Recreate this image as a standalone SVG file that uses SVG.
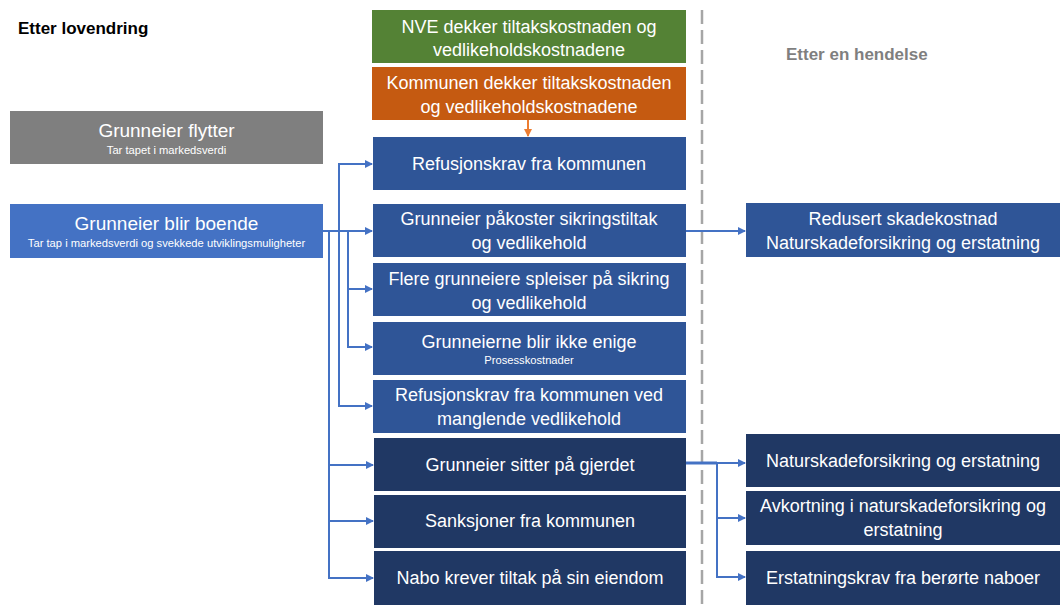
<svg xmlns="http://www.w3.org/2000/svg" width="1060" height="605" viewBox="0 0 1060 605">
  <style>
    .box-t { font-family: "Liberation Sans", Arial, sans-serif; font-size: 18px; fill: #ffffff; text-anchor: middle; }
    .lead-t { font-size: 19px; }
    .sub-t { font-family: "Liberation Sans", Arial, sans-serif; font-size: 11.2px; fill: #ffffff; text-anchor: middle; }
    .head { font-family: "Liberation Sans", Arial, sans-serif; font-size: 17px; font-weight: bold; }
    .mid { fill: #2f5597; }
    .dark { fill: #203864; }
    .conn { fill: none; stroke: #4472c4; stroke-width: 2; }
  </style>
  <defs>
    <marker id="arr" viewBox="0 0 8 8" refX="7" refY="4" markerWidth="4" markerHeight="4" orient="auto" markerUnits="strokeWidth">
      <path d="M0,0 L8,4 L0,8 z" fill="#4472c4"/>
    </marker>
    <marker id="arr-o" viewBox="0 0 8 8" refX="7" refY="4" markerWidth="4" markerHeight="4" orient="auto" markerUnits="strokeWidth">
      <path d="M0,0 L8,4 L0,8 z" fill="#ed7d31"/>
    </marker>
  </defs>
  <rect width="1060" height="605" fill="#ffffff"/>

  <!-- section headings -->
  <text class="head" x="18" y="34" fill="#000000">Etter lovendring</text>
  <text class="head" x="786" y="60" fill="#7f7f7f">Etter en hendelse</text>

  <!-- divider between before / after an event -->
  <line x1="702" y1="10" x2="702" y2="605" stroke="#a6a6a6" stroke-width="2.5" stroke-dasharray="14 6"/>

  <!-- connectors -->
  <g id="connectors">
    <line x1="528" y1="120" x2="528" y2="136" stroke="#ed7d31" stroke-width="2" marker-end="url(#arr-o)"/>
    <polyline class="conn" points="323,231 372,231" marker-end="url(#arr)"/>
    <polyline class="conn" points="339,231 339,164 372,164" marker-end="url(#arr)"/>
    <polyline class="conn" points="339,231 339,406 372,406" marker-end="url(#arr)"/>
    <polyline class="conn" points="348,231 348,289 372,289" marker-end="url(#arr)"/>
    <polyline class="conn" points="348,289 348,347 372,347" marker-end="url(#arr)"/>
    <polyline class="conn" points="329,231 329,465 373,465" marker-end="url(#arr)"/>
    <polyline class="conn" points="329,465 329,521 373,521" marker-end="url(#arr)"/>
    <polyline class="conn" points="329,521 329,578 373,578" marker-end="url(#arr)"/>
    <polyline class="conn" points="686,231 745,231" marker-end="url(#arr)"/>
    <line x1="686" y1="463" x2="717" y2="463" stroke="#4472c4" stroke-width="3"/>
    <polyline class="conn" points="717,463 745,463" marker-end="url(#arr)"/>
    <polyline class="conn" points="717,463 717,518 745,518" marker-end="url(#arr)"/>
    <polyline class="conn" points="717,518 717,577 745,577" marker-end="url(#arr)"/>
  </g>

  <g id="grunneier-flytter">
    <rect x="10" y="111" width="313" height="53" fill="#7f7f7f"/>
    <text class="box-t lead-t" x="166.5" y="137">Grunneier flytter</text>
    <text class="sub-t" x="166.5" y="154">Tar tapet i markedsverdi</text>
  </g>
  <g id="grunneier-blir-boende">
    <rect x="10" y="204" width="313" height="54" fill="#4472c4"/>
    <text class="box-t lead-t" x="166.5" y="230">Grunneier blir boende</text>
    <text class="sub-t" x="166.5" y="247">Tar tap i markedsverdi og svekkede utviklingsmuligheter</text>
  </g>

  <g id="nve-dekker">
    <rect x="372" y="10" width="314" height="53" fill="#548235"/>
    <text class="box-t" x="529" y="33">NVE dekker tiltakskostnaden og</text>
    <text class="box-t" x="529" y="56">vedlikeholdskostnadene</text>
  </g>
  <g id="kommunen-dekker">
    <rect x="372" y="67" width="314" height="53" fill="#c55a11"/>
    <text class="box-t" x="529" y="89">Kommunen dekker tiltakskostnaden</text>
    <text class="box-t" x="529" y="113">og vedlikeholdskostnadene</text>
  </g>
  <g id="refusjonskrav">
    <rect class="mid" x="373" y="137" width="313" height="53"/>
    <text class="box-t" x="529" y="170">Refusjonskrav fra kommunen</text>
  </g>
  <g id="grunneier-pakoster">
    <rect class="mid" x="373" y="204" width="313" height="53"/>
    <text class="box-t" x="529" y="225">Grunneier påkoster sikringstiltak</text>
    <text class="box-t" x="529" y="249">og vedlikehold</text>
  </g>
  <g id="flere-grunneiere">
    <rect class="mid" x="373" y="263" width="313" height="53"/>
    <text class="box-t" x="529" y="285">Flere grunneiere spleiser på sikring</text>
    <text class="box-t" x="529" y="309">og vedlikehold</text>
  </g>
  <g id="ikke-enige">
    <rect class="mid" x="373" y="322" width="313" height="53"/>
    <text class="box-t" x="529" y="348">Grunneierne blir ikke enige</text>
    <text class="sub-t" x="529" y="364" font-size="9.7">Prosesskostnader</text>
  </g>
  <g id="refusjonskrav-vedlikehold">
    <rect class="mid" x="373" y="380" width="313" height="53"/>
    <text class="box-t" x="529" y="401">Refusjonskrav fra kommunen ved</text>
    <text class="box-t" x="529" y="425">manglende vedlikehold</text>
  </g>
  <g id="sitter-pa-gjerdet">
    <rect class="dark" x="374" y="438" width="312" height="53"/>
    <text class="box-t" x="530" y="471">Grunneier sitter på gjerdet</text>
  </g>
  <g id="sanksjoner">
    <rect class="dark" x="374" y="495" width="312" height="53"/>
    <text class="box-t" x="530" y="527">Sanksjoner fra kommunen</text>
  </g>
  <g id="nabo-krever">
    <rect class="dark" x="374" y="551" width="312" height="54"/>
    <text class="box-t" x="530" y="584">Nabo krever tiltak på sin eiendom</text>
  </g>

  <g id="redusert-skadekostnad">
    <rect class="mid" x="746" y="203" width="314" height="54"/>
    <text class="box-t" x="903" y="225">Redusert skadekostnad</text>
    <text class="box-t" x="903" y="249">Naturskadeforsikring og erstatning</text>
  </g>
  <g id="naturskadeforsikring">
    <rect class="dark" x="746" y="434" width="314" height="53"/>
    <text class="box-t" x="903" y="467">Naturskadeforsikring og erstatning</text>
  </g>
  <g id="avkortning">
    <rect class="dark" x="746" y="491" width="314" height="54"/>
    <text class="box-t" x="903" y="512">Avkortning i naturskadeforsikring og</text>
    <text class="box-t" x="903" y="536">erstatning</text>
  </g>
  <g id="erstatningskrav">
    <rect class="dark" x="746" y="551" width="314" height="54"/>
    <text class="box-t" x="903" y="584">Erstatningskrav fra berørte naboer</text>
  </g>
</svg>
